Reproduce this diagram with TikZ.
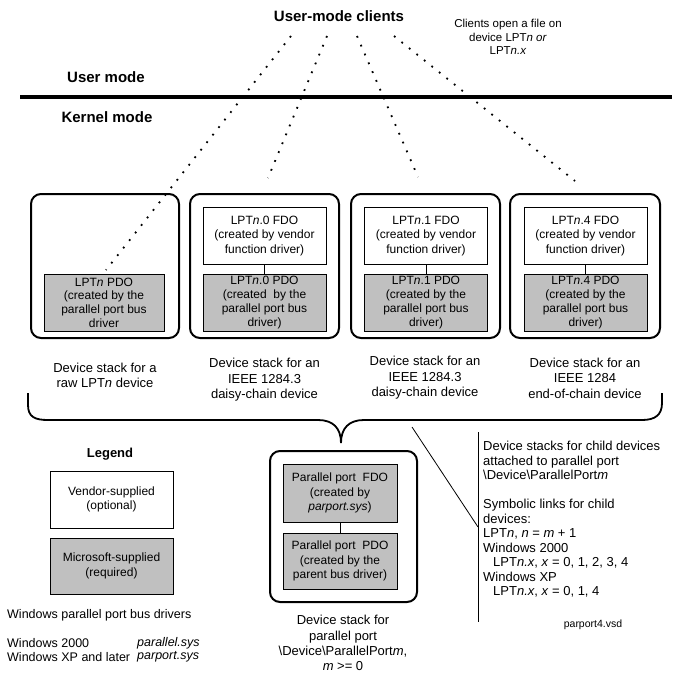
\documentclass[tikz,border=0pt]{standalone}
\usepackage{fontspec}
\setmainfont{Liberation Sans}
\usetikzlibrary{positioning}
\definecolor{msgray}{RGB}{192, 192, 192}

\begin{document}
\begin{tikzpicture}[x=1pt, y=-1pt,
    stackframe/.style={draw, line width=2pt, rounded corners=10pt, inner sep=0pt, minimum width=149pt, minimum height=144pt},
    vendorbox/.style={draw, fill=white, line width=0.8pt, align=center, inner sep=0pt, minimum width=123pt, minimum height=57pt, font=\fontsize{12}{14.2}\selectfont},
    msbox/.style={vendorbox, fill=msgray, font=\fontsize{12}{13.7}\selectfont},
    caption/.style={align=center, inner sep=0pt, font=\fontsize{13}{15.6}\selectfont},
    plaintext/.style={inner sep=0pt, font=\fontsize{12.5}{14.5}\selectfont},
    heading/.style={inner sep=0pt, font=\fontsize{15}{18}\selectfont\bfseries},
    clientlink/.style={line width=1.8pt, dash pattern=on 1.8pt off 7.8pt},
    thinline/.style={line width=0.8pt}]
    \useasboundingbox (0,0) rectangle (675,677);
    % Modes
    \node[heading] (clients) at (339,16) {User-mode clients};
    \node[align=center, inner sep=0pt, font=\fontsize{11.5}{13.8}\selectfont] (clientnote) at (508,37) {Clients open a file on\\device LPT\textit{n or}\\LPT\textit{n.x}};
    \node[heading] (usermode) at (106,77) {User mode};
    \node[heading] (kernelmode) at (107,117) {Kernel mode};
    \draw[line width=3.3pt] (20,97) -- (672,97);
    % Device stacks for child devices
    \node[stackframe, minimum width=148pt] (stackA) at (105,266) {};
    \node[stackframe] (stackB) at (264.5,266) {};
    \node[stackframe] (stackC) at (425.5,266) {};
    \node[stackframe, minimum width=150pt] (stackD) at (585,266) {};
    \node[msbox, minimum width=120pt] (pdoA) at (104,302.5) {LPT\textit{n} PDO\\(created by the\\parallel port bus\\driver};
    \node[vendorbox] (fdoB) at (264.5,236) {LPT\textit{n}.0 FDO\\(created by vendor\\function driver)};
    \node[msbox] (pdoB) at (264.5,302.5) {LPT\textit{n}.0 PDO\\(created~ by the\\parallel port bus\\driver)};
    \node[vendorbox] (fdoC) at (426,236) {LPT\textit{n}.1 FDO\\(created by vendor\\function driver)};
    \node[msbox] (pdoC) at (426,302.5) {LPT\textit{n}.1 PDO\\(created by the\\parallel port bus\\driver)};
    \node[vendorbox] (fdoD) at (585.5,236) {LPT\textit{n}.4 FDO\\(created by vendor\\function driver)};
    \node[msbox] (pdoD) at (585.5,302.5) {LPT\textit{n}.4 PDO\\(created by the\\parallel port bus\\driver)};
    \draw[thinline] (fdoB) -- (pdoB);
    \draw[thinline] (fdoC) -- (pdoC);
    \draw[thinline] (fdoD) -- (pdoD);
    \node[caption] (capA) at (105,375.5) {Device stack for a\\raw LPT\textit{n} device};
    \node[caption] (capB) at (264.5,380) {Device stack for an\\IEEE 1284.3\\daisy-chain device};
    \node[caption] (capC) at (425,378) {Device stack for an\\IEEE 1284.3\\daisy-chain device};
    \node[caption] (capD) at (585,378) {Device stack for an\\IEEE 1284\\end-of-chain device};
    % Client links
    \coordinate (clientA) at (291,36);
    \coordinate (clientB) at (327,36);
    \coordinate (clientC) at (357,36);
    \coordinate (clientD) at (394,36);
    \coordinate (linkA) at (106,270);
    \coordinate (linkB) at (268,178);
    \coordinate (linkC) at (418,177);
    \coordinate (linkD) at (575,181);
    \draw[clientlink] (clientA) -- (linkA);
    \draw[clientlink] (clientB) -- (linkB);
    \draw[clientlink] (clientC) -- (linkC);
    \draw[clientlink] (clientD) -- (linkD);
    % Brace
    \draw[line width=1.8pt] (28,393) -- (28,405) .. controls (28,417) and (35,420) .. (48,420) -- (318,420)
        .. controls (333,420) and (341,428) .. (341,443) .. controls (341,428) and (349,420) .. (364,420)
        -- (642,420) .. controls (655,420) and (662,415) .. (662,403) -- (662,393);
    % Parallel port stack
    \node[stackframe, minimum width=147pt, minimum height=151pt] (stackPort) at (343.5,526.5) {};
    \node[msbox, minimum width=114pt, minimum height=58pt, font=\fontsize{12}{14.2}\selectfont] (portFdo) at (340,493) {Parallel port~ FDO\\(created by\\\textit{parport.sys})};
    \node[msbox, minimum width=114pt, minimum height=56pt, font=\fontsize{12}{14.2}\selectfont] (portPdo) at (340,561) {Parallel port~ PDO\\(created by the\\parent bus driver)};
    \draw[thinline] (portFdo) -- (portPdo);
    \node[caption, font=\fontsize{13}{15.3}\selectfont] (capPort) at (343,643) {Device stack for\\parallel port\\\textbackslash Device\textbackslash ParallelPort\textit{m},\\\textit{m} >= 0};
    % Notes
    \coordinate (braceNote) at (412,427);
    \coordinate (noteTop) at (478,432);
    \coordinate (noteBottom) at (478,622);
    \coordinate (noteLink) at (478,527);
    \draw[thinline] (noteTop) -- (noteBottom);
    \draw[thinline] (braceNote) -- (noteLink);
    \node[anchor=north west, align=left, inner sep=0pt, font=\fontsize{13}{14.5}\selectfont] (childNote) at (483,441)
        {Device stacks for child devices\\attached to parallel port\\\textbackslash Device\textbackslash ParallelPort\textit{m}\\[14.5pt]
         Symbolic links for child\\devices:\\LPT\textit{n}, \textit{n} = \textit{m} + 1\\Windows 2000\\
         \hspace*{10pt}LPT\textit{n.x}, \textit{x} = 0, 1, 2, 3, 4\\Windows XP\\\hspace*{10pt}LPT\textit{n.x}, \textit{x} = 0, 1, 4};
    \node[inner sep=0pt, font=\fontsize{10.5}{12}\selectfont] (fileName) at (593,625) {parport4.vsd};
    % Legend
    \node[inner sep=0pt, font=\fontsize{13}{15}\selectfont\bfseries] (legend) at (110,454) {Legend};
    \node[vendorbox] (legendVendor) at (111.5,499.5) {Vendor-supplied\\(optional)};
    \node[msbox, minimum height=56pt, font=\fontsize{12}{14.5}\selectfont] (legendMs) at (111.5,566) {Microsoft-supplied\\(required)};
    \node[plaintext, anchor=west] (drvTitle) at (7,615) {Windows parallel port bus drivers};
    \node[plaintext, anchor=west] (drvWinA) at (7,643) {Windows 2000};
    \node[plaintext, anchor=west] (drvFileA) at (137,643) {\textit{parallel.sys}};
    \node[plaintext, anchor=west] (drvWinB) at (7,657) {Windows XP and later};
    \node[plaintext, anchor=west] (drvFileB) at (137,657) {\textit{parport.sys}};
\end{tikzpicture}
\end{document}
